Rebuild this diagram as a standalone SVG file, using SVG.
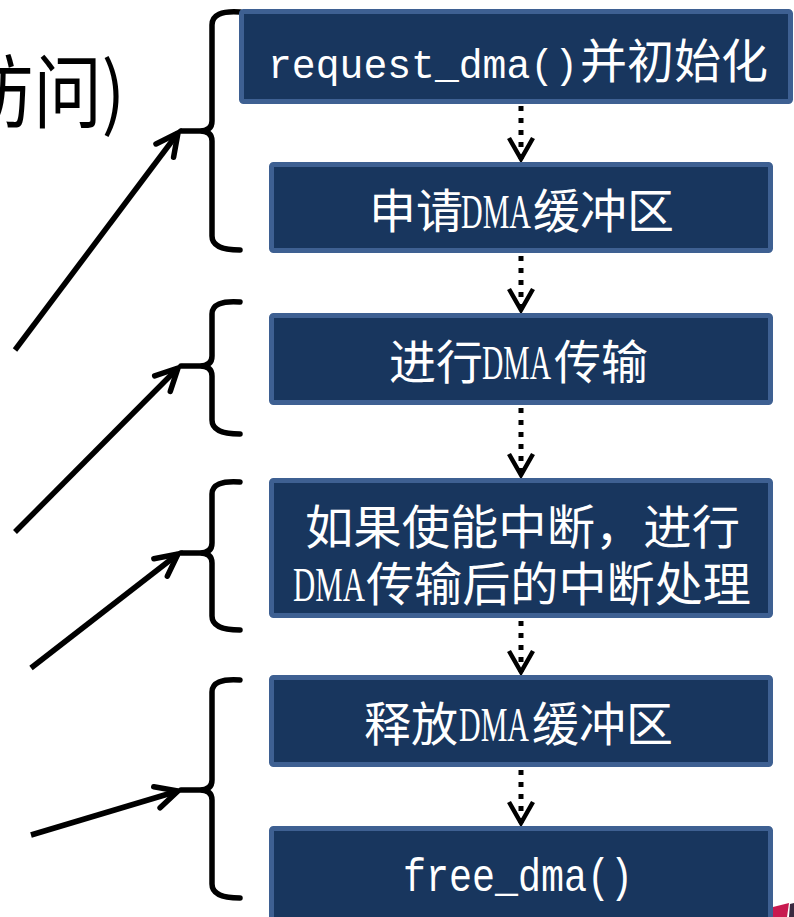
<svg xmlns="http://www.w3.org/2000/svg" width="794" height="917" viewBox="0 0 794 917">
<style>
.box{fill:#18365E;stroke:#3E6092;stroke-width:5}
.t{fill:#ffffff;font-family:"Noto Sans CJK SC","Noto Sans",sans-serif;font-size:47px}
.mono{font-family:"Liberation Mono","DejaVu Sans Mono",monospace}
.ser{font-family:"Liberation Serif","DejaVu Serif",serif;font-size:48px}
.brace{fill:none;stroke:#000;stroke-width:5.5;stroke-linecap:round;stroke-linejoin:round}
.arrow{fill:none;stroke:#000;stroke-width:5.5;marker-end:url(#head)}
.dot{fill:none;stroke:#000;stroke-width:5;stroke-dasharray:5 7;marker-end:url(#chev)}
</style>
<defs>
<marker id="head" markerUnits="userSpaceOnUse" orient="auto" refX="0" refY="0" markerWidth="60" markerHeight="60" viewBox="-30 -30 60 60" overflow="visible">
<path d="M-22,-11 L0,0 L-22,11" fill="none" stroke="#000" stroke-width="5.5" stroke-linecap="round" stroke-linejoin="miter"/>
</marker>
<marker id="chev" markerUnits="userSpaceOnUse" orient="auto" refX="0" refY="0" markerWidth="60" markerHeight="60" viewBox="-30 -30 60 60" overflow="visible">
<path d="M-21,-12 L0,0 L-21,12" fill="none" stroke="#000" stroke-width="4.5" stroke-linejoin="miter"/>
</marker>
</defs>

<text x="-35" y="121" font-family="'Noto Sans CJK SC','Noto Sans',sans-serif" font-size="80" textLength="160" lengthAdjust="spacingAndGlyphs" fill="#000">访问)</text>

<g id="connectors">
<line class="dot" x1="521" y1="106" x2="521" y2="159"/>
<line class="dot" x1="521" y1="256" x2="521" y2="310"/>
<line class="dot" x1="521" y1="408" x2="521" y2="475"/>
<line class="dot" x1="521" y1="621" x2="521" y2="672"/>
<line class="dot" x1="521" y1="770" x2="521" y2="823"/>
<line class="arrow" x1="15" y1="350" x2="178" y2="133"/>
<line class="arrow" x1="15" y1="532" x2="178" y2="368"/>
<line class="arrow" x1="31" y1="668" x2="178" y2="554"/>
<line class="arrow" x1="31" y1="835" x2="178" y2="791"/>
</g>

<g id="brace1"><path class="brace" d="M240,12 Q212,10 212,25 L212,121 Q212,131 200,131 L181,131 M200,131 Q212,131 212,141 L212,236 Q212,250 240,250"/></g>
<g id="brace2"><path class="brace" d="M240,302 Q212,300 212,314 L212,356 Q212,366 200,366 L181,366 M200,366 Q212,366 212,376 L212,420 Q212,434 240,434"/></g>
<g id="brace3"><path class="brace" d="M240,482 Q212,480 212,494 L212,543 Q212,553 200,553 L181,553 M200,553 Q212,553 212,563 L212,616 Q212,630 240,630"/></g>
<g id="brace4"><path class="brace" d="M240,680 Q212,678 212,692 L212,780 Q212,790 200,790 L181,790 M200,790 Q212,790 212,800 L212,884 Q212,898 240,898"/></g>

<g id="n1">
<rect class="box" x="241.5" y="11.5" width="549" height="90" rx="2"/>
<text class="t" y="78"><tspan class="mono" x="268" font-size="40" textLength="310" lengthAdjust="spacingAndGlyphs">request_dma()</tspan><tspan x="580">并初始化</tspan></text>
</g>
<g id="n2">
<rect class="box" x="271.5" y="164.5" width="499" height="86" rx="2"/>
<text class="t" y="228"><tspan x="369">申请</tspan><tspan class="ser" x="461" textLength="70" lengthAdjust="spacingAndGlyphs">DMA</tspan><tspan x="533">缓冲区</tspan></text>
</g>
<g id="n3">
<rect class="box" x="271.5" y="315.5" width="499" height="87" rx="2"/>
<text class="t" y="379"><tspan x="389">进行</tspan><tspan class="ser" x="482" textLength="69" lengthAdjust="spacingAndGlyphs">DMA</tspan><tspan x="554">传输</tspan></text>
</g>
<g id="n4">
<rect class="box" x="271.5" y="480.5" width="499" height="135" rx="2"/>
<text class="t" x="305" y="544" textLength="435" lengthAdjust="spacingAndGlyphs">如果使能中断，进行</text>
<text class="t" y="601"><tspan class="ser" x="293" textLength="72" lengthAdjust="spacingAndGlyphs">DMA</tspan><tspan x="366" textLength="385" lengthAdjust="spacingAndGlyphs">传输后的中断处理</tspan></text>
</g>
<g id="n5">
<rect class="box" x="271.5" y="677.5" width="499" height="87" rx="2"/>
<text class="t" y="741"><tspan x="364">释放</tspan><tspan class="ser" x="459" textLength="70" lengthAdjust="spacingAndGlyphs">DMA</tspan><tspan x="532">缓冲区</tspan></text>
</g>
<g id="n6">
<rect class="box" x="271.5" y="828.5" width="499" height="96" rx="2"/>
<text class="t mono" x="403" y="891" font-size="38" textLength="230" lengthAdjust="spacingAndGlyphs">free_dma()</text>
</g>

<polygon points="773,907 789,903 787,917 773,917" fill="#C8194F"/>
<polygon points="790,904 794,903 794,917 789,917" fill="#3a2a40"/>
</svg>
